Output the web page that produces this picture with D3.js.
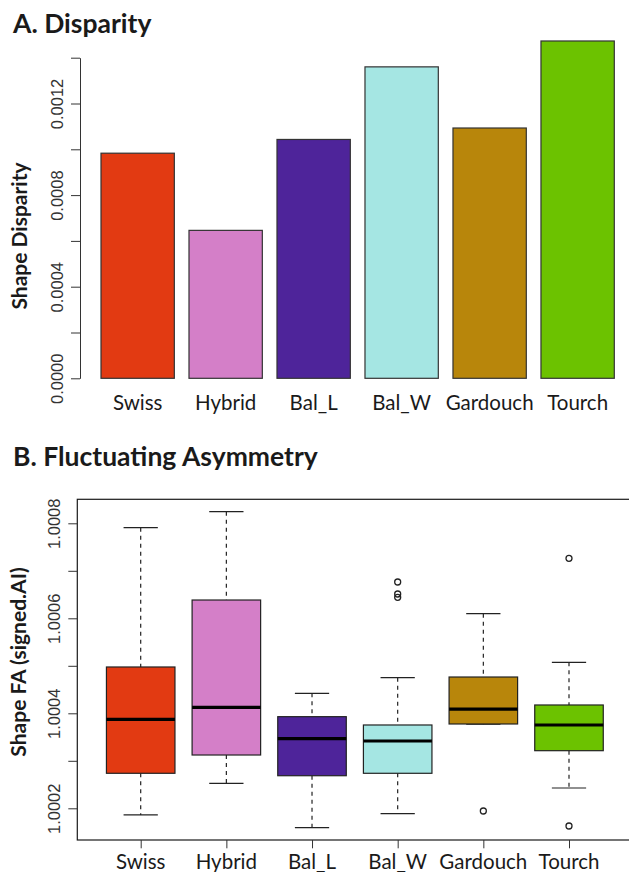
<!DOCTYPE html>
<html>
<head>
<meta charset="utf-8">
<script src="https://cdn.jsdelivr.net/npm/d3@7"></script>
<style>
  body { margin: 0; background: #fff; }
  svg { display: block; font-family: Lato, "Open Sans", sans-serif; }
</style>
</head>
<body>
<div id="chart"></div>
<script>
// groups and colours shared by both panels
const groups = ["Swiss", "Hybrid", "Bal_L", "Bal_W", "Gardouch", "Tourch"];
const groupColors = ["#e23a12", "#d47fc8", "#4e249a", "#a5e6e3", "#b8860b", "#6cc200"];

// panel A: shape disparity
const disparity = [0.000983, 0.000646, 0.001043, 0.00136, 0.001093, 0.001473];
const disparityTicks = [0, 0.0002, 0.0004, 0.0006, 0.0008, 0.0010, 0.0012, 0.0014];
const disparityLabels = ["0.0000", "", "0.0004", "", "0.0008", "", "0.0012", ""];

// panel B: fluctuating asymmetry box stats
const faLow    = [1.000186, 1.0002526, 1.0001592, 1.0001886, 1.000377, 1.0002427];
const faQ1     = [1.0002737, 1.0003122, 1.0002686, 1.0002737, 1.0003775, 1.0003213];
const faMedian = [1.0003874, 1.0004126, 1.0003465, 1.0003417, 1.000409, 1.0003754];
const faQ3     = [1.0004975, 1.0006385, 1.0003929, 1.0003754, 1.0004764, 1.0004175];
const faHigh   = [1.0007907, 1.0008244, 1.0004421, 1.000475, 1.0006097, 1.0005074];
const faOutliers = [[], [], [], [1.0006764, 1.0006512, 1.0006442], [1.0001943], [1.0007263, 1.0001627]];
const faTicks = [1.0002, 1.0003, 1.0004, 1.0005, 1.0006, 1.0007, 1.0008];
const faLabels = ["1.0002", "", "1.0004", "", "1.0006", "", "1.0008"];

const svg = d3.select("#chart")
    .append("svg")
    .attr("width", 629)
    .attr("height", 872);

// ---------- Panel A ----------
svg.append("text")
    .attr("x", 13)
    .attr("y", 33)
    .attr("font-size", 26.5)
    .attr("font-weight", "bold")
    .attr("fill", "#1a1a1a")
    .text("A. Disparity");

const xA = d3.scaleBand()
    .domain(groups)
    .range([101, 614.3])
    .paddingInner(0.1667)
    .paddingOuter(0);

const yA = d3.scaleLinear()
    .domain([0, 0.0014])
    .range([378.3, 57.7]);

svg.selectAll("rect.bar")
    .data(groups)
    .join("rect")
    .attr("class", "bar")
    .attr("x", d => xA(d))
    .attr("y", (d, i) => yA(disparity[i]))
    .attr("width", xA.bandwidth())
    .attr("height", (d, i) => yA(0) - yA(disparity[i]))
    .attr("fill", (d, i) => groupColors[i])
    .attr("stroke", "#333")
    .attr("stroke-width", 1.2);

const axisA = svg.append("g")
    .attr("transform", "translate(80,0)")
    .call(d3.axisLeft(yA)
        .tickValues(disparityTicks)
        .tickSize(9)
        .tickSizeOuter(0)
        .tickFormat((d, i) => disparityLabels[i]));
axisA.select(".domain").attr("stroke", "#333");
axisA.selectAll("line").attr("stroke", "#333");
axisA.selectAll("text")
    .attr("font-size", 16.5)
    .attr("fill", "#333")
    .attr("text-anchor", "middle")
    .attr("x", 0).attr("dy", 0)
    .attr("transform", "translate(-17,0) rotate(-90)");

svg.selectAll("text.labA")
    .data(groups)
    .join("text")
    .attr("class", "labA")
    .attr("x", d => xA(d) + xA.bandwidth() / 2)
    .attr("y", 410)
    .attr("text-anchor", "middle")
    .attr("font-size", 20.5)
    .attr("fill", "#1a1a1a")
    .text(d => d);

svg.append("text")
    .attr("transform", "translate(27,236) rotate(-90)")
    .attr("text-anchor", "middle")
    .attr("font-size", 21)
    .attr("font-weight", "bold")
    .attr("fill", "#1a1a1a")
    .text("Shape Disparity");

// ---------- Panel B ----------
svg.append("text")
    .attr("x", 13)
    .attr("y", 466)
    .attr("font-size", 26.5)
    .attr("font-weight", "bold")
    .attr("fill", "#1a1a1a")
    .text("B. Fluctuating Asymmetry");

const xB = d3.scalePoint()
    .domain(groups)
    .range([140.7, 569]);
const stepB = xB.step();
const boxW = stepB * 0.8;

const yB = d3.scaleLinear()
    .domain([1.0002, 1.0008])
    .range([808.3, 523.3]);

// plot frame
svg.append("rect")
    .attr("x", 77.3)
    .attr("y", 499.3)
    .attr("width", 580)
    .attr("height", 340.7)
    .attr("fill", "none")
    .attr("stroke", "#1a1a1a")
    .attr("stroke-width", 1.2);

const box = svg.selectAll("g.box")
    .data(groups)
    .join("g")
    .attr("class", "box")
    .attr("transform", d => `translate(${xB(d)},0)`);

// dashed whiskers
box.append("line")
    .attr("y1", (d, i) => yB(faHigh[i]))
    .attr("y2", (d, i) => yB(faQ3[i]))
    .attr("stroke", "#222").attr("stroke-width", 1.2)
    .attr("stroke-dasharray", "4,4");
box.append("line")
    .attr("y1", (d, i) => yB(faQ1[i]))
    .attr("y2", (d, i) => yB(faLow[i]))
    .attr("stroke", "#222").attr("stroke-width", 1.2)
    .attr("stroke-dasharray", "4,4");

// staples
[faHigh, faLow].forEach(arr => {
    box.append("line")
        .attr("x1", -boxW / 4).attr("x2", boxW / 4)
        .attr("y1", (d, i) => yB(arr[i]))
        .attr("y2", (d, i) => yB(arr[i]))
        .attr("stroke", "#222").attr("stroke-width", 1.2);
});

box.append("rect")
    .attr("x", -boxW / 2)
    .attr("width", boxW)
    .attr("y", (d, i) => yB(faQ3[i]))
    .attr("height", (d, i) => yB(faQ1[i]) - yB(faQ3[i]))
    .attr("fill", (d, i) => groupColors[i])
    .attr("stroke", "#222")
    .attr("stroke-width", 1.2);

box.append("line")
    .attr("x1", -boxW / 2).attr("x2", boxW / 2)
    .attr("y1", (d, i) => yB(faMedian[i]))
    .attr("y2", (d, i) => yB(faMedian[i]))
    .attr("stroke", "#000").attr("stroke-width", 3.2);

box.selectAll("circle")
    .data((d, i) => faOutliers[i])
    .join("circle")
    .attr("cy", v => yB(v))
    .attr("r", 3)
    .attr("fill", "none")
    .attr("stroke", "#222")
    .attr("stroke-width", 1.3);

const axisBy = svg.append("g")
    .attr("transform", "translate(77.3,0)")
    .call(d3.axisLeft(yB)
        .tickValues(faTicks)
        .tickSize(9)
        .tickFormat((d, i) => faLabels[i]));
axisBy.select(".domain").remove();
axisBy.selectAll("line").attr("stroke", "#333");
axisBy.selectAll("text")
    .attr("font-size", 16.5)
    .attr("fill", "#333")
    .attr("text-anchor", "middle")
    .attr("x", 0).attr("dy", 0)
    .attr("transform", "translate(-17,0) rotate(-90)");

const axisBx = svg.append("g")
    .attr("transform", "translate(0,840)")
    .call(d3.axisBottom(xB)
        .tickSize(8.3)
        .tickFormat(""));
axisBx.select(".domain").remove();
axisBx.selectAll("line").attr("stroke", "#333");

svg.selectAll("text.labB")
    .data(groups)
    .join("text")
    .attr("class", "labB")
    .attr("x", d => xB(d))
    .attr("y", 869)
    .attr("text-anchor", "middle")
    .attr("font-size", 20.5)
    .attr("fill", "#1a1a1a")
    .text(d => d);

svg.append("text")
    .attr("transform", "translate(26,662) rotate(-90)")
    .attr("text-anchor", "middle")
    .attr("font-size", 21)
    .attr("font-weight", "bold")
    .attr("fill", "#1a1a1a")
    .text("Shape FA (signed.AI)");
</script>
</body>
</html>
